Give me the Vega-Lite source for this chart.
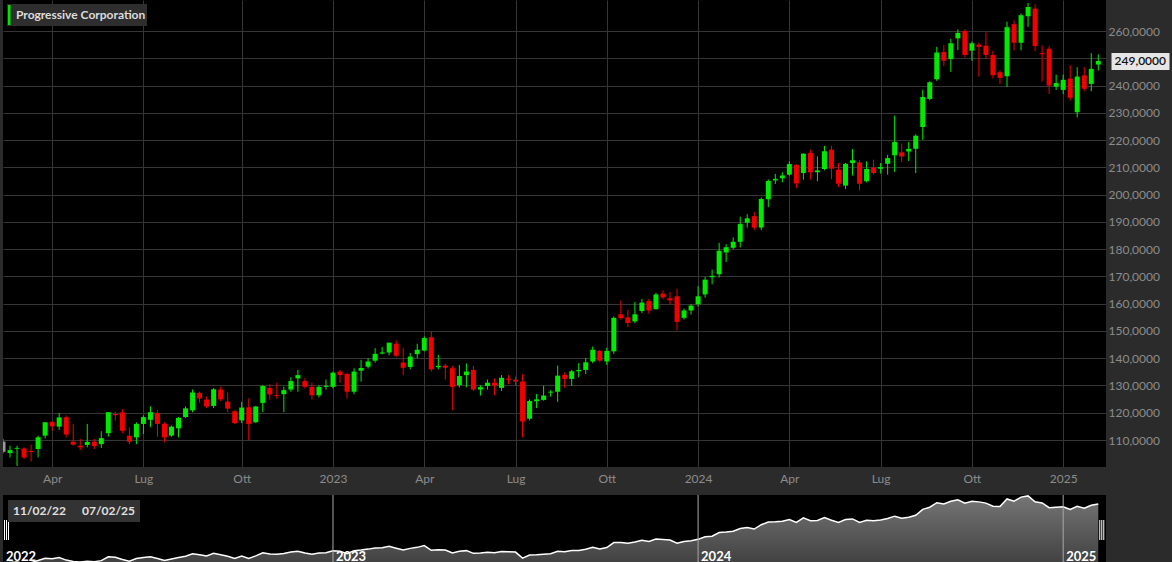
{
  "$schema": "https://vega.github.io/schema/vega-lite/v6.json",
  "background": "#2b2b2b",
  "padding": 0,
  "spacing": 0,
  "config": {"view": {"fill": "#000000", "stroke": null}, "font": "Lato"},
  "resolve": {"scale": {"shape": "independent"}, "legend": {"shape": "independent"}},
  "datasets": {
    "weekly": [
      {"date":"2022-02-11","open":109.4,"high":110.4,"low":105.1,"close":105.7},
      {"date":"2022-02-18","open":105.2,"high":107.9,"low":103.6,"close":106.3},
      {"date":"2022-02-25","open":106.8,"high":107.9,"low":100.5,"close":107.1},
      {"date":"2022-03-04","open":106.9,"high":107.3,"low":103.0,"close":103.6},
      {"date":"2022-03-11","open":106.0,"high":108.3,"low":102.1,"close":105.6},
      {"date":"2022-03-18","open":106.7,"high":111.6,"low":103.6,"close":111.0},
      {"date":"2022-03-25","open":111.6,"high":116.5,"low":110.6,"close":116.5},
      {"date":"2022-04-01","open":116.7,"high":116.7,"low":113.4,"close":115.0},
      {"date":"2022-04-08","open":114.9,"high":119.9,"low":113.7,"close":118.3},
      {"date":"2022-04-15","open":118.3,"high":119.0,"low":111.0,"close":112.0},
      {"date":"2022-04-22","open":109.4,"high":115.9,"low":107.9,"close":108.3},
      {"date":"2022-04-29","open":107.9,"high":110.4,"low":106.3,"close":107.3},
      {"date":"2022-05-06","open":108.2,"high":115.9,"low":107.3,"close":109.3},
      {"date":"2022-05-13","open":109.3,"high":110.4,"low":106.7,"close":107.8},
      {"date":"2022-05-20","open":108.5,"high":113.2,"low":107.1,"close":110.7},
      {"date":"2022-05-27","open":112.5,"high":120.2,"low":111.2,"close":120.2},
      {"date":"2022-06-03","open":119.5,"high":120.4,"low":117.1,"close":119.1},
      {"date":"2022-06-10","open":120.1,"high":121.4,"low":112.5,"close":113.4},
      {"date":"2022-06-17","open":111.6,"high":114.7,"low":108.5,"close":109.4},
      {"date":"2022-06-24","open":111.0,"high":116.5,"low":108.5,"close":115.9},
      {"date":"2022-07-01","open":115.9,"high":119.0,"low":112.2,"close":118.4},
      {"date":"2022-07-08","open":117.4,"high":122.3,"low":114.7,"close":120.2},
      {"date":"2022-07-15","open":119.9,"high":120.9,"low":111.2,"close":115.9},
      {"date":"2022-07-22","open":115.9,"high":116.5,"low":109.1,"close":111.0},
      {"date":"2022-07-29","open":111.6,"high":115.3,"low":111.2,"close":114.9},
      {"date":"2022-08-05","open":114.3,"high":118.4,"low":111.0,"close":118.1},
      {"date":"2022-08-12","open":118.4,"high":122.3,"low":118.1,"close":121.6},
      {"date":"2022-08-19","open":120.9,"high":128.5,"low":120.2,"close":127.4},
      {"date":"2022-08-26","open":127.3,"high":127.7,"low":123.7,"close":125.2},
      {"date":"2022-09-02","open":124.8,"high":126.0,"low":121.7,"close":122.3},
      {"date":"2022-09-09","open":122.5,"high":129.1,"low":121.7,"close":128.6},
      {"date":"2022-09-16","open":128.5,"high":129.5,"low":124.3,"close":124.9},
      {"date":"2022-09-23","open":124.1,"high":127.4,"low":120.2,"close":121.5},
      {"date":"2022-09-30","open":120.5,"high":120.9,"low":115.9,"close":116.2},
      {"date":"2022-10-07","open":117.2,"high":124.0,"low":116.2,"close":121.9},
      {"date":"2022-10-14","open":122.0,"high":125.2,"low":110.0,"close":115.9},
      {"date":"2022-10-21","open":116.5,"high":122.5,"low":116.3,"close":122.3},
      {"date":"2022-10-28","open":123.6,"high":130.1,"low":120.2,"close":129.8},
      {"date":"2022-11-04","open":129.1,"high":130.5,"low":124.8,"close":126.7},
      {"date":"2022-11-11","open":126.5,"high":131.0,"low":125.2,"close":126.2},
      {"date":"2022-11-18","open":126.8,"high":129.5,"low":120.2,"close":128.3},
      {"date":"2022-11-25","open":128.5,"high":133.0,"low":127.7,"close":131.6},
      {"date":"2022-12-02","open":132.6,"high":135.7,"low":127.7,"close":133.8},
      {"date":"2022-12-09","open":131.6,"high":132.6,"low":128.9,"close":129.5},
      {"date":"2022-12-16","open":129.5,"high":131.1,"low":124.8,"close":126.4},
      {"date":"2022-12-23","open":126.4,"high":130.1,"low":125.6,"close":129.5},
      {"date":"2022-12-30","open":129.5,"high":132.2,"low":128.5,"close":129.9},
      {"date":"2023-01-06","open":129.5,"high":135.1,"low":128.9,"close":134.7},
      {"date":"2023-01-13","open":135.1,"high":135.7,"low":131.0,"close":133.8},
      {"date":"2023-01-20","open":134.2,"high":134.7,"low":125.2,"close":127.7},
      {"date":"2023-01-27","open":127.7,"high":136.3,"low":126.8,"close":135.1},
      {"date":"2023-02-03","open":135.4,"high":139.4,"low":131.4,"close":136.4},
      {"date":"2023-02-10","open":136.9,"high":140.0,"low":136.2,"close":138.8},
      {"date":"2023-02-17","open":139.1,"high":143.7,"low":138.4,"close":141.6},
      {"date":"2023-02-24","open":141.7,"high":144.1,"low":141.4,"close":142.1},
      {"date":"2023-03-03","open":142.1,"high":145.7,"low":141.1,"close":145.7},
      {"date":"2023-03-10","open":145.3,"high":146.5,"low":140.4,"close":140.9},
      {"date":"2023-03-17","open":138.4,"high":143.7,"low":133.8,"close":136.5},
      {"date":"2023-03-24","open":136.8,"high":141.9,"low":135.9,"close":140.6},
      {"date":"2023-03-31","open":141.5,"high":145.3,"low":140.0,"close":143.1},
      {"date":"2023-04-07","open":142.8,"high":148.0,"low":142.5,"close":147.4},
      {"date":"2023-04-14","open":147.7,"high":149.9,"low":135.1,"close":135.9},
      {"date":"2023-04-21","open":136.7,"high":141.2,"low":135.9,"close":137.2},
      {"date":"2023-04-28","open":137.3,"high":137.9,"low":132.2,"close":136.5},
      {"date":"2023-05-05","open":136.3,"high":137.2,"low":120.9,"close":129.5},
      {"date":"2023-05-12","open":130.1,"high":137.5,"low":129.3,"close":133.5},
      {"date":"2023-05-19","open":133.8,"high":138.1,"low":129.3,"close":135.1},
      {"date":"2023-05-26","open":135.7,"high":137.2,"low":128.0,"close":128.5},
      {"date":"2023-06-02","open":128.5,"high":130.1,"low":126.3,"close":129.4},
      {"date":"2023-06-09","open":129.8,"high":132.2,"low":128.5,"close":131.0},
      {"date":"2023-06-16","open":131.0,"high":132.6,"low":126.4,"close":130.0},
      {"date":"2023-06-23","open":129.1,"high":133.8,"low":128.0,"close":132.8},
      {"date":"2023-06-30","open":132.5,"high":133.8,"low":130.5,"close":132.1},
      {"date":"2023-07-07","open":132.1,"high":133.2,"low":129.8,"close":131.5},
      {"date":"2023-07-14","open":131.4,"high":134.1,"low":111.0,"close":116.8},
      {"date":"2023-07-21","open":117.8,"high":124.9,"low":117.2,"close":124.3},
      {"date":"2023-07-28","open":124.2,"high":126.9,"low":121.7,"close":124.9},
      {"date":"2023-08-04","open":124.7,"high":129.9,"low":124.4,"close":126.3},
      {"date":"2023-08-11","open":127.4,"high":128.3,"low":125.9,"close":127.7},
      {"date":"2023-08-18","open":127.7,"high":137.3,"low":124.0,"close":133.6},
      {"date":"2023-08-25","open":133.9,"high":134.8,"low":129.1,"close":132.4},
      {"date":"2023-09-01","open":132.4,"high":135.7,"low":129.9,"close":135.2},
      {"date":"2023-09-08","open":135.2,"high":138.2,"low":133.0,"close":135.7},
      {"date":"2023-09-15","open":135.7,"high":140.1,"low":134.2,"close":138.5},
      {"date":"2023-09-22","open":138.8,"high":144.3,"low":138.2,"close":143.1},
      {"date":"2023-09-29","open":142.7,"high":143.1,"low":138.5,"close":139.1},
      {"date":"2023-10-06","open":138.8,"high":143.8,"low":137.5,"close":142.7},
      {"date":"2023-10-13","open":142.5,"high":155.3,"low":141.6,"close":154.8},
      {"date":"2023-10-20","open":156.1,"high":161.2,"low":154.1,"close":154.7},
      {"date":"2023-10-27","open":155.0,"high":157.8,"low":151.4,"close":152.9},
      {"date":"2023-11-03","open":153.5,"high":160.6,"low":152.9,"close":156.1},
      {"date":"2023-11-10","open":157.3,"high":161.8,"low":156.6,"close":160.4},
      {"date":"2023-11-17","open":161.0,"high":161.8,"low":156.3,"close":157.5},
      {"date":"2023-11-24","open":158.0,"high":164.0,"low":157.8,"close":163.4},
      {"date":"2023-12-01","open":163.7,"high":164.9,"low":161.6,"close":162.3},
      {"date":"2023-12-08","open":162.0,"high":164.3,"low":159.8,"close":161.2},
      {"date":"2023-12-15","open":162.7,"high":165.5,"low":150.2,"close":153.3},
      {"date":"2023-12-22","open":154.8,"high":158.2,"low":154.2,"close":157.5},
      {"date":"2023-12-29","open":157.5,"high":159.8,"low":156.0,"close":159.3},
      {"date":"2024-01-05","open":159.8,"high":166.4,"low":159.0,"close":162.7},
      {"date":"2024-01-12","open":163.4,"high":169.8,"low":162.2,"close":168.8},
      {"date":"2024-01-19","open":169.7,"high":172.5,"low":167.1,"close":170.2},
      {"date":"2024-01-26","open":170.8,"high":182.3,"low":169.6,"close":179.4},
      {"date":"2024-02-02","open":178.8,"high":181.8,"low":175.3,"close":180.7},
      {"date":"2024-02-09","open":180.5,"high":184.3,"low":179.9,"close":182.7},
      {"date":"2024-02-16","open":182.7,"high":191.9,"low":180.6,"close":189.2},
      {"date":"2024-02-23","open":189.7,"high":192.8,"low":187.9,"close":191.3},
      {"date":"2024-03-01","open":192.1,"high":193.7,"low":187.0,"close":187.9},
      {"date":"2024-03-08","open":187.9,"high":198.9,"low":187.0,"close":198.4},
      {"date":"2024-03-15","open":198.3,"high":205.6,"low":195.4,"close":205.0},
      {"date":"2024-03-22","open":205.2,"high":207.6,"low":203.9,"close":205.8},
      {"date":"2024-03-29","open":206.0,"high":208.2,"low":204.5,"close":207.0},
      {"date":"2024-04-05","open":207.3,"high":212.2,"low":206.9,"close":211.2},
      {"date":"2024-04-12","open":210.9,"high":211.2,"low":202.4,"close":204.1},
      {"date":"2024-04-19","open":207.9,"high":215.2,"low":205.5,"close":215.0},
      {"date":"2024-04-26","open":215.2,"high":216.5,"low":205.5,"close":208.2},
      {"date":"2024-05-03","open":208.2,"high":214.0,"low":204.9,"close":208.9},
      {"date":"2024-05-10","open":209.4,"high":217.9,"low":208.9,"close":215.9},
      {"date":"2024-05-17","open":216.5,"high":217.9,"low":205.7,"close":209.5},
      {"date":"2024-05-24","open":209.1,"high":211.6,"low":202.8,"close":204.0},
      {"date":"2024-05-31","open":203.3,"high":211.6,"low":202.1,"close":211.3},
      {"date":"2024-06-07","open":211.6,"high":216.7,"low":207.0,"close":212.6},
      {"date":"2024-06-14","open":211.8,"high":212.6,"low":201.6,"close":204.0},
      {"date":"2024-06-21","open":204.9,"high":212.2,"low":204.5,"close":209.4},
      {"date":"2024-06-28","open":209.9,"high":212.8,"low":207.3,"close":207.9},
      {"date":"2024-07-05","open":209.5,"high":211.6,"low":207.7,"close":210.1},
      {"date":"2024-07-12","open":211.3,"high":214.6,"low":207.3,"close":213.4},
      {"date":"2024-07-19","open":214.4,"high":229.0,"low":208.3,"close":219.3},
      {"date":"2024-07-26","open":215.5,"high":218.7,"low":211.9,"close":214.0},
      {"date":"2024-08-02","open":215.8,"high":219.3,"low":212.3,"close":216.8},
      {"date":"2024-08-09","open":216.8,"high":222.1,"low":207.9,"close":221.6},
      {"date":"2024-08-16","open":224.8,"high":238.5,"low":220.1,"close":235.8},
      {"date":"2024-08-23","open":235.1,"high":241.6,"low":234.6,"close":241.2},
      {"date":"2024-08-30","open":242.3,"high":254.2,"low":241.7,"close":252.1},
      {"date":"2024-09-06","open":252.3,"high":254.8,"low":247.2,"close":249.1},
      {"date":"2024-09-13","open":249.7,"high":257.1,"low":245.0,"close":255.5},
      {"date":"2024-09-20","open":257.3,"high":260.6,"low":253.0,"close":259.3},
      {"date":"2024-09-27","open":260.0,"high":260.6,"low":250.3,"close":251.2},
      {"date":"2024-10-04","open":252.8,"high":256.1,"low":249.1,"close":255.5},
      {"date":"2024-10-11","open":255.0,"high":255.8,"low":243.2,"close":254.2},
      {"date":"2024-10-18","open":254.6,"high":259.5,"low":249.9,"close":251.2},
      {"date":"2024-10-25","open":251.2,"high":252.8,"low":242.6,"close":243.8},
      {"date":"2024-11-01","open":244.9,"high":245.6,"low":240.5,"close":242.8},
      {"date":"2024-11-08","open":243.4,"high":263.4,"low":239.5,"close":261.4},
      {"date":"2024-11-15","open":262.5,"high":263.9,"low":252.9,"close":255.7},
      {"date":"2024-11-22","open":255.7,"high":266.4,"low":252.9,"close":265.8},
      {"date":"2024-11-29","open":265.4,"high":270.3,"low":261.5,"close":268.8},
      {"date":"2024-12-06","open":268.2,"high":269.8,"low":252.6,"close":254.5},
      {"date":"2024-12-13","open":251.9,"high":254.7,"low":241.5,"close":251.5},
      {"date":"2024-12-20","open":253.5,"high":254.4,"low":236.9,"close":240.0},
      {"date":"2024-12-27","open":239.6,"high":244.0,"low":238.4,"close":240.9},
      {"date":"2025-01-03","open":238.4,"high":244.0,"low":236.9,"close":242.1},
      {"date":"2025-01-10","open":242.5,"high":247.4,"low":234.5,"close":235.5},
      {"date":"2025-01-17","open":230.2,"high":246.7,"low":228.3,"close":243.3},
      {"date":"2025-01-24","open":243.7,"high":246.7,"low":237.9,"close":238.8},
      {"date":"2025-01-31","open":240.6,"high":251.9,"low":237.9,"close":246.1},
      {"date":"2025-02-07","open":247.7,"high":251.4,"low":245.5,"close":249.0}
    ]
  },
  "vconcat": [
    {
      "width": 1103,
      "height": 467,
      "view": {"fill": "#000000", "stroke": null},
      "resolve": {"scale": {"y": "independent"}, "axis": {"y": "independent"}},
      "layer": [
        {
          "data": {"name": "weekly"},
          "encoding": {
            "x": {
              "field": "date", "type": "ordinal",
              "scale": {"type": "point", "padding": 0.55, "align": 0, "round": false},
              "axis": {
                "values": ["2022-04-01","2022-07-01","2022-10-07","2023-01-06","2023-04-07","2023-07-07","2023-10-06","2024-01-05","2024-04-05","2024-07-05","2024-10-04","2025-01-03"],
                "labelExpr": "utcmonth(toDate(datum.value)) == 0 ? utcFormat(toDate(datum.value), '%Y') : ['Gen','Feb','Mar','Apr','Mag','Giu','Lug','Ago','Set','Ott','Nov','Dic'][utcmonth(toDate(datum.value))]",
                "grid": true, "gridColor": "#353535", "gridWidth": 1,
                "ticks": false, "domain": false,
                "labelColor": "#8c8c8c", "labelFont": "Lato", "labelFontSize": 12,
                "labelPadding": 6, "labelAngle": 0,
                "minExtent": 25, "maxExtent": 25, "title": null
              }
            },
            "color": {
              "condition": [
                {"test": "datum.date == '2022-02-11'", "value": "#9a9a9a"},
                {"test": "datum.close < datum.open", "value": "#f20000"}
              ],
              "value": "#00ea00"
            }
          },
          "layer": [
            {
              "mark": {"type": "rule", "strokeWidth": 1, "clip": true},
              "encoding": {
                "y": {
                  "field": "low", "type": "quantitative",
                  "scale": {"domain": [100.1, 271.37], "zero": false, "nice": false},
                  "axis": {
                    "orient": "right",
                    "values": [110,120,130,140,150,160,170,180,190,200,210,220,230,240,250,260],
                    "labelExpr": "datum.value == 250 ? '' : replace(format(datum.value, '.4f'), '.', ',')",
                    "labelOverlap": false,
                    "grid": true, "gridColor": "#353535",
                    "ticks": false, "domain": false,
                    "labelColor": "#8c8c8c", "labelFont": "Lato", "labelFontSize": 12,
                    "labelPadding": 2, "minExtent": 69, "maxExtent": 69, "title": null
                  }
                },
                "y2": {"field": "high"}
              }
            },
            {
              "mark": {"type": "bar", "size": 5, "clip": true},
              "encoding": {
                "y": {
                  "field": "open", "type": "quantitative",
                  "scale": {"domain": [100.1, 271.37], "zero": false, "nice": false},
                  "axis": {
                    "orient": "right",
                    "values": [110,120,130,140,150,160,170,180,190,200,210,220,230,240,250,260],
                    "labelExpr": "datum.value == 250 ? '' : replace(format(datum.value, '.4f'), '.', ',')",
                    "labelOverlap": false,
                    "grid": true, "gridColor": "#353535",
                    "ticks": false, "domain": false,
                    "labelColor": "#8c8c8c", "labelFont": "Lato", "labelFontSize": 12,
                    "labelPadding": 2, "minExtent": 69, "maxExtent": 69, "title": null
                  }
                },
                "y2": {"field": "close"}
              }
            }
          ]
        },
        {
          "mark": {"type": "rule", "color": "#ffffff", "strokeWidth": 1.5},
          "encoding": {
            "y": {
              "datum": 249, "type": "quantitative",
              "scale": {"domain": [100.1, 271.37], "zero": false, "nice": false},
              "axis": {
                "orient": "right", "values": [249],
                "labelExpr": "replace(format(datum.value, '.4f'), '.', ',')",
                "grid": false, "domain": false,
                "ticks": true, "tickSize": 58, "tickWidth": 17, "tickColor": "#e6e6e6",
                "offset": 5, "labelPadding": -55,
                "labelColor": "#111111", "labelFont": "Lato", "labelFontSize": 12, "labelFontWeight": 600,
                "minExtent": 69, "maxExtent": 69, "title": null
              }
            }
          }
        },
        {
          "data": {"values": [{"name": "Progressive Corporation"}]},
          "mark": {"type": "point", "opacity": 0, "filled": true, "color": "#00e600"},
          "encoding": {
            "shape": {
              "field": "name", "type": "nominal",
              "scale": {"range": ["M-1,-1H-0.75V1H-1Z"]},
              "legend": {
                "title": null, "orient": "top-left", "offset": 4, "padding": 1,
                "fillColor": "#2e2e2e", "strokeColor": null,
                "symbolSize": 400, "symbolOpacity": 1, "symbolFillColor": "#00e600", "symbolStrokeWidth": 0,
                "labelOffset": -12, "labelFont": "Lato", "labelFontSize": 12, "labelFontWeight": "bold",
                "labelColor": "#dcdcdc", "labelExpr": "datum.label + '\u00a0\u00a0\u00a0\u00a0\u00a0'"
              }
            }
          }
        }
      ]
    },
    {
      "width": 1103,
      "height": 70,
      "view": {"fill": "#000000", "stroke": null},
      "layer": [
        {
          "data": {"name": "weekly"},
          "mark": {
            "type": "area",
            "line": {"color": "#ffffff", "strokeWidth": 1.5},
            "color": {
              "gradient": "linear", "x1": 0, "y1": 1, "x2": 0, "y2": 0,
              "stops": [{"offset": 0, "color": "#2e2e2e"}, {"offset": 1, "color": "#a8a8a8"}]
            }
          },
          "encoding": {
            "x": {"field": "date", "type": "ordinal", "scale": {"type": "point", "padding": 0.55, "align": 0, "round": false}, "axis": null},
            "y": {"field": "close", "type": "quantitative", "scale": {"domain": [100, 271], "zero": false, "nice": false}, "axis": null}
          }
        },
        {
          "data": {"values": [{"date": "2023-01-06"}, {"date": "2024-01-05"}, {"date": "2025-01-03"}]},
          "mark": {"type": "rule", "color": "#a8a8a8", "strokeWidth": 1},
          "encoding": {
            "x": {"field": "date", "type": "ordinal", "axis": null}
          }
        },
        {
          "data": {"values": [{"date": "2022-02-11", "year": "2022"}, {"date": "2023-01-06", "year": "2023"}, {"date": "2024-01-05", "year": "2024"}, {"date": "2025-01-03", "year": "2025"}]},
          "mark": {"type": "text", "align": "left", "baseline": "alphabetic", "dx": 3, "color": "#ffffff", "font": "Lato", "fontWeight": "bold", "fontSize": 13},
          "encoding": {
            "x": {"field": "date", "type": "ordinal", "axis": null},
            "y": {"datum": 110, "type": "quantitative", "axis": null},
            "text": {"field": "year"}
          }
        },
        {
          "data": {"values": [{"date": "2022-02-11"}, {"date": "2025-02-07"}]},
          "mark": {"type": "point", "shape": "M0.1,-1H0.2V1H0.1Z M0.3,-1H0.4V1H0.3Z M0.5,-1H0.6V1H0.5Z", "filled": true, "color": "#ffffff", "opacity": 1, "size": 400},
          "encoding": {
            "x": {"field": "date", "type": "ordinal", "axis": null},
            "y": {"datum": 185.5, "type": "quantitative", "axis": null}
          }
        },
        {
          "data": {"values": [{"d": "11/02/22"}, {"d": "07/02/25"}]},
          "mark": {"type": "point", "opacity": 0},
          "encoding": {
            "shape": {
              "field": "d", "type": "nominal", "sort": null,
              "legend": {
                "title": null, "orient": "top-left", "direction": "horizontal", "offset": 5, "padding": 5,
                "fillColor": "#333333", "strokeColor": null,
                "symbolSize": 0, "symbolOpacity": 0, "symbolStrokeWidth": 0,
                "labelOffset": -12, "columnPadding": 16,
                "labelFont": "Lato", "labelFontSize": 12, "labelFontWeight": "bold", "labelColor": "#e0e0e0"
              }
            }
          }
        }
      ]
    }
  ]
}
